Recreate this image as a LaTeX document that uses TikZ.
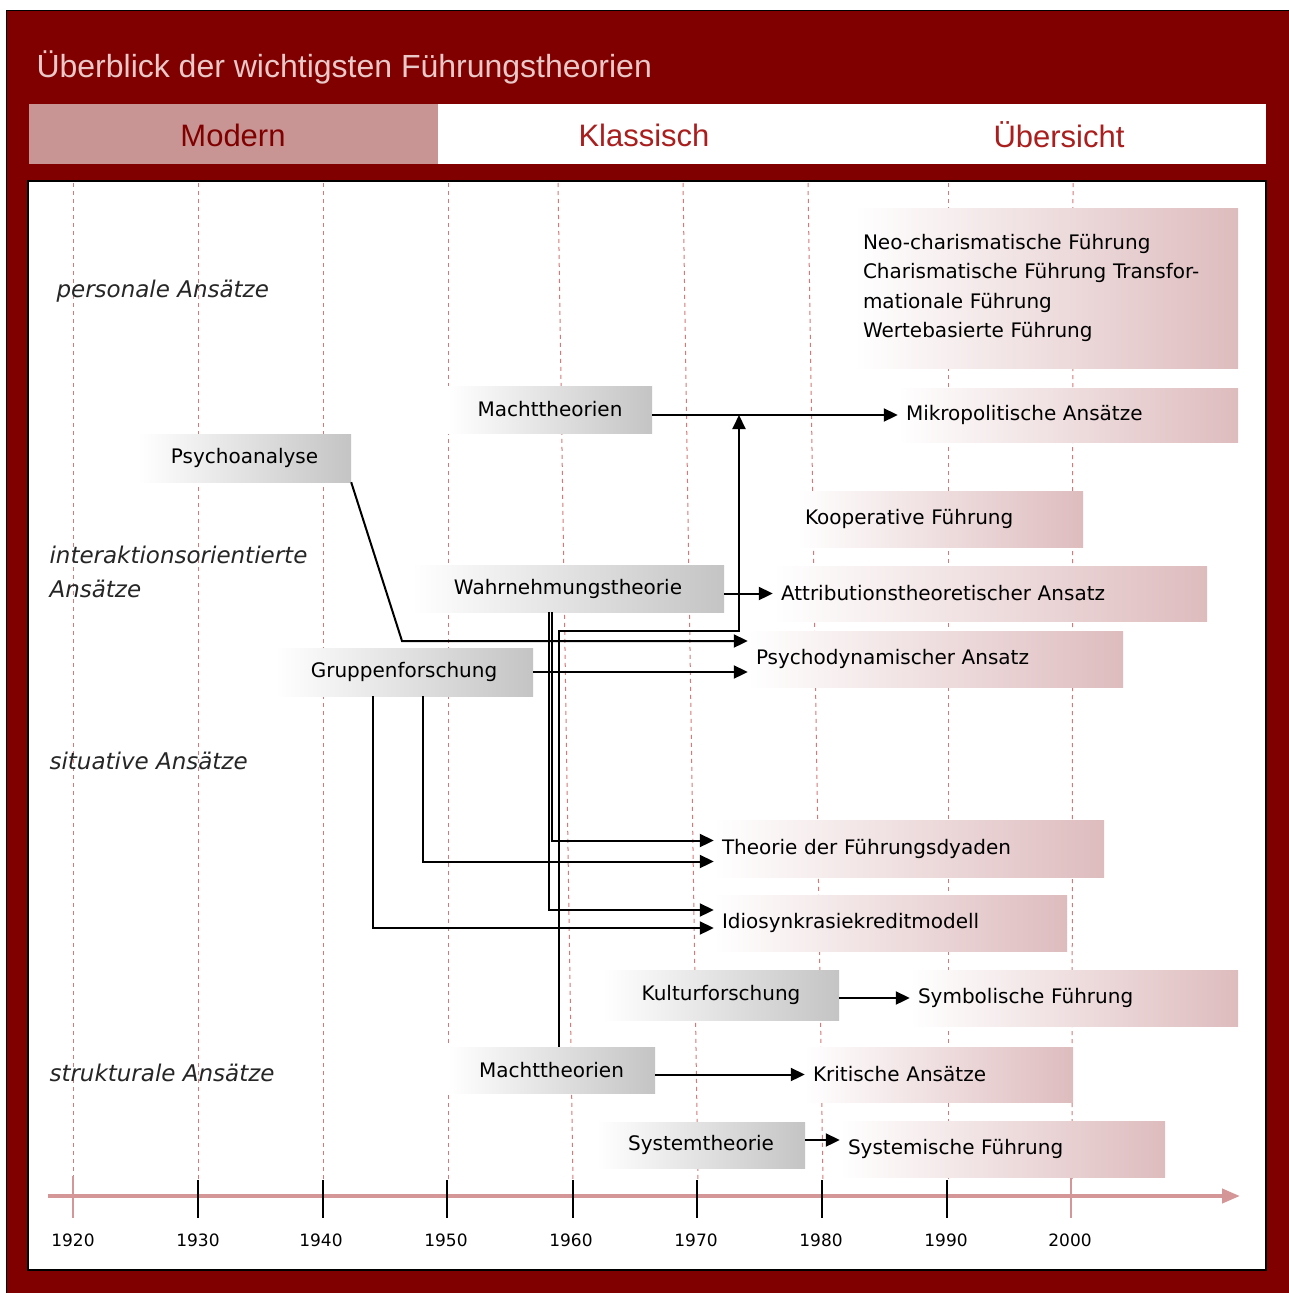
\documentclass[tikz,border=0pt]{standalone}
\usepackage{fontspec}
\setmainfont{DejaVu Sans}
\newfontfamily\headfont{Liberation Sans}
\usepackage{tikz}
\usetikzlibrary{arrows.meta}
\definecolor{darkred}{RGB}{128,0,0}
\definecolor{tabred}{RGB}{170,30,30}
\definecolor{tabpink}{RGB}{201,148,148}
\definecolor{titlepink}{RGB}{234,200,200}
\definecolor{gridred}{RGB}{214,120,120}
\definecolor{axispink}{RGB}{212,150,150}
\definecolor{boxgray}{RGB}{196,196,196}
\definecolor{boxpink}{RGB}{222,188,190}
\tikzset{
  srcbox/.style={left color=white, right color=boxgray, minimum width=#1,
    minimum height=47pt, inner sep=0pt, font=\fontsize{20}{24}\selectfont},
  tgtbox/.style={left color=white, right color=boxpink, text width=#1,
    minimum height=56pt, inner xsep=8pt, inner ysep=0pt, align=left,
    font=\fontsize{20}{24}\selectfont},
  grid/.style={gridred, line width=1pt, dash pattern=on 4pt off 4pt},
  conn/.style={line width=2pt, black},
  arr/.style={conn, -{Triangle[length=14pt,width=13pt]}},
  tick/.style={line width=2pt, black},
  yearlbl/.style={font=\fontsize{17}{20}\selectfont},
  catlbl/.style={anchor=west, align=left, text=black!85,
    font=\fontsize{23}{34}\selectfont\itshape},
  tablbl/.style={font=\headfont\fontsize{31}{36}\selectfont},
}
\begin{document}
\begin{tikzpicture}[x=1pt,y=-1pt]
      \useasboundingbox (0,0) rectangle (1289,1293);
      \fill[white] (0,0) rectangle (1289,1293);
      % Frame and header
      \draw[fill=darkred, line width=1pt] (6,10) rectangle (1289,1293);
      \node (title) at (33,67) [anchor=west, text=titlepink, font=\headfont\fontsize{32}{36}\selectfont] {Überblick der wichtigsten Führungstheorien};
      \fill[white] (29,104) rectangle (1266,164);
      \fill[tabpink] (29,104) rectangle (438,164);
      \node (tmodern) at (233,135) [tablbl, text=darkred] {Modern};
      \node (tklass) at (644,135) [tablbl, text=tabred] {Klassisch};
      \node (tueber) at (1059,135) [tablbl, text=tabred] {Übersicht};
      \draw[fill=white, line width=1.5pt] (28,181) rectangle (1266,1270);
      %
      % Decade grid:
      \draw[grid] (73,183) -- (73,1182);
      \draw[grid] (198,183) -- (198,1182);
      \draw[grid] (323,183) -- (323,1182);
      \draw[grid] (448,183) -- (448,1182);
      \draw[grid] (558,183) -- (573,1182);
      \draw[grid] (683,183) -- (698,1182);
      \draw[grid] (808,183) -- (823,1182);
      \draw[grid] (948,183) -- (948,1182);
      \draw[grid] (1073,183) -- (1072,1182);
      % Time axis
      \draw[axispink, line width=4pt, -{Triangle[length=18pt,width=14pt]}] (48,1196) -- (1240,1196);
      \draw[axispink, line width=2pt] (73,1176) -- (73,1218);
      \draw[tick] (198,1180) -- (198,1218);
      \draw[tick] (323,1180) -- (323,1218);
      \draw[tick] (447,1180) -- (447,1218);
      \draw[tick] (573,1180) -- (573,1218);
      \draw[tick] (697,1180) -- (697,1218);
      \draw[tick] (822,1180) -- (822,1218);
      \draw[tick] (947,1180) -- (947,1218);
      \draw[axispink, line width=2pt] (1071,1176) -- (1071,1218);
      \node (y1920) at (73,1240) [yearlbl] {1920};
      \node (y1930) at (198,1240) [yearlbl] {1930};
      \node (y1940) at (321,1240) [yearlbl] {1940};
      \node (y1950) at (446,1240) [yearlbl] {1950};
      \node (y1960) at (571,1240) [yearlbl] {1960};
      \node (y1970) at (696,1240) [yearlbl] {1970};
      \node (y1980) at (821,1240) [yearlbl] {1980};
      \node (y1990) at (946,1240) [yearlbl] {1990};
      \node (y2000) at (1070,1240) [yearlbl] {2000};
      %
      % Kinds of approach
      \node (cpers) at (53,291) [catlbl] {personale Ansätze};
      \node (cinter) at (46,572) [catlbl] {interaktionsorientierte\\Ansätze};
      \node (csitu) at (46,761) [catlbl] {situative Ansätze};
      \node (cstruk) at (46,1073) [catlbl] {strukturale Ansätze};
      %
      % Roots (grey)
      \node (mt1) at (550,409.5) [srcbox=204pt] {Machttheorien};
      \node (psy) at (244.5,458) [srcbox=213pt, minimum height=48pt] {Psychoanalyse};
      \node (wahr) at (568,588.5) [srcbox=312pt] {Wahrnehmungstheorie};
      \node (grp) at (404,672) [srcbox=258pt, minimum height=48pt] {Gruppenforschung};
      \node (kult) at (721,995) [srcbox=236pt, minimum height=50pt] {Kulturforschung};
      \node (mt2) at (551.5,1070) [srcbox=207pt, minimum height=46pt] {Machttheorien};
      \node (sys) at (701,1145) [srcbox=208pt, minimum height=46pt] {Systemtheorie};
      %
      % Theories (pink)
      \node (neo) at (1046.5,288) [tgtbox=367pt, minimum height=160pt, font=\fontsize{20}{29.5}\selectfont] {Neo-charismatische Führung\\Charismatische Führung Transfor-\\mationale Führung\\Wertebasierte Führung};
      \node (mikro) at (1068,415) [tgtbox=324pt, minimum height=54pt] {Mikropolitische Ansätze};
      \node (koop) at (940,519) [tgtbox=270pt] {Kooperative Führung};
      \node (attr) at (990,593.5) [tgtbox=418pt, minimum height=55pt] {Attributionstheoretischer Ansatz};
      \node (psydyn) at (935.5,659) [tgtbox=359pt] {Psychodynamischer Ansatz};
      \node (theo) at (909,848.5) [tgtbox=374pt, minimum height=57pt] {Theorie der Führungsdyaden};
      \node (idio) at (890.5,923) [tgtbox=337pt] {Idiosynkrasiekreditmodell};
      \node (symb) at (1074,998) [tgtbox=312pt] {Symbolische Führung};
      \node (krit) at (939,1074.5) [tgtbox=252pt, minimum height=55pt] {Kritische Ansätze};
      \node (sysf) at (1002.5,1149) [tgtbox=309pt] {Systemische Führung};
      %
      % Influence edges:
      \coordinate (knick) at (739,631);
      \coordinate (psyknick) at (402,641);
      \draw[arr] (mt1.east |- mikro.west) -- (mikro.west);
      \draw[arr] ([xshift=7pt]mt2.north) |- (knick) -- (knick |- mikro.west);
      \draw[arr] (psy.south east) -- (psyknick) -- (psyknick -| psydyn.west);
      \draw[arr] (wahr.east |- attr.west) -- (attr.west);
      \draw[arr] ([xshift=-16pt]wahr.south) |- ([yshift=8pt]theo.west);
      \draw[arr] ([xshift=-19pt]wahr.south) |- ([yshift=13pt]idio.west);
      \draw[arr] (grp.east) -- (grp.east -| psydyn.west);
      \draw[arr] ([xshift=19pt]grp.south) |- ([yshift=-13pt]theo.west);
      \draw[arr] ([xshift=-31pt]grp.south) |- ([yshift=-5pt]idio.west);
      \draw[arr] (kult.east |- symb.west) -- (symb.west);
      \draw[arr] (mt2.east |- krit.west) -- (krit.west);
      \draw[arr] ([yshift=5pt]sys.east) -- ([yshift=5pt]sys.east -| sysf.west);
\end{tikzpicture}
\end{document}
